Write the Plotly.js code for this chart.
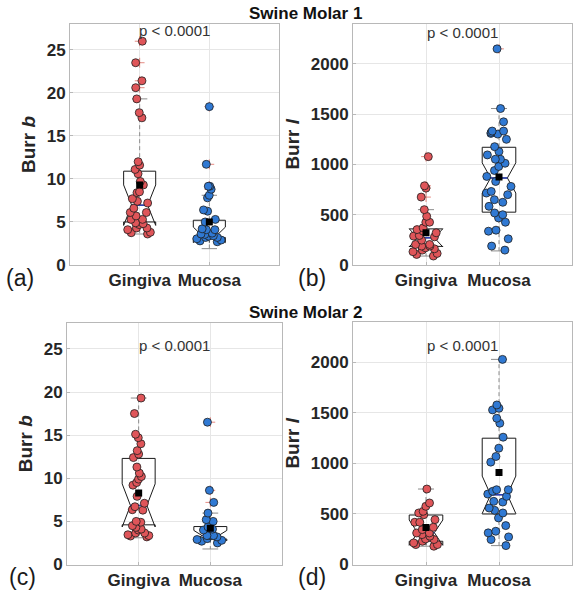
<!DOCTYPE html>
<html><head><meta charset="utf-8">
<script src="https://cdn.plot.ly/plotly-3.0.1.min.js"></script>
<style>html,body{margin:0;padding:0;background:#fff}#chart{width:574px;height:595px}</style>
</head><body><div id="chart"></div>
<script>
const categories = ['Gingiva', 'Mucosa'];
const catPos = [1, 2];

// (a) Swine Molar 1 - Burr b
const aGingiva = [26.0, 23.5, 21.4, 20.6, 19.3, 17.7, 17.1, 12.0, 11.6, 11.1, 10.6, 9.7, 9.3, 8.5, 8.4, 7.7, 7.4, 7.2, 6.6, 6.1, 6.1, 5.7, 5.3, 5.3, 4.9, 4.8, 4.7, 4.3, 4.3, 4.1, 3.8, 3.75, 3.6];
const aMucosa = [18.4, 11.7, 9.15, 9.15, 8.8, 8.1, 7.8, 6.4, 6.25, 5.3, 5.0, 4.2, 4.1, 4.1, 3.7, 3.6, 3.55, 3.4, 3.35, 3.2, 3.2, 3.05, 2.9, 2.8, 2.7];
const aQ1 = [5.0, 3.2], aMedian = [6.95, 3.5], aQ3 = [10.9, 5.2];
const aLow = [3.6, 1.9], aHigh = [19.3, 8.1], aMean = [9.3, 5.0], aNotch = [2.35, 0.9];

// (b) Swine Molar 1 - Burr l
const bGingiva = [1077, 787, 764, 675, 550, 484, 425, 425, 369, 352, 336, 320, 293, 287, 280, 247, 204, 204, 188, 188, 171, 161, 148, 132, 115, 105, 89];
const bMucosa = [2148, 1555, 1423, 1331, 1331, 1318, 1308, 1301, 1249, 1176, 1127, 1094, 1051, 1051, 1011, 979, 939, 880, 830, 781, 731, 715, 699, 649, 623, 583, 517, 500, 468, 425, 346, 336, 260, 188, 148];
const bQ1 = [185, 525], bMedian = [270, 865], bQ3 = [359, 1170];
const bLow = [89, 140], bHigh = [550, 1555], bMean = [320, 875], bNotch = [90, 150];

// (c) Swine Molar 2 - Burr b
const cGingiva = [19.3, 17.5, 15.1, 14.7, 14.0, 13.2, 12.8, 12.4, 11.3, 10.6, 10.2, 9.9, 9.5, 9.2, 7.9, 7.1, 6.7, 6.35, 6.3, 5.0, 4.9, 4.5, 4.3, 4.1, 4.0, 3.65, 3.65, 3.45, 3.35, 3.3, 3.2];
const cMucosa = [16.5, 8.6, 7.2, 5.96, 5.2, 5.0, 4.35, 4.1, 4.0, 3.35, 3.35, 3.35, 3.2, 3.0, 2.9, 2.8, 2.7, 2.5];
const cQ1 = [4.6, 2.95], cMedian = [6.85, 3.35], cQ3 = [12.3, 4.4];
const cLow = [3.1, 1.8], cHigh = [19.3, 5.96], cMean = [8.3, 4.2], cNotch = [2.5, 0.6];

// (d) Swine Molar 2 - Burr l
const dGingiva = [747, 609, 576, 526, 510, 493, 444, 418, 418, 368, 345, 312, 312, 296, 280, 253, 247, 230, 214, 197, 197, 181];
const dMucosa = [2030, 1579, 1546, 1530, 1447, 1398, 1260, 1151, 1069, 1013, 740, 740, 724, 697, 674, 625, 618, 559, 536, 510, 461, 385, 329, 313, 273, 247, 187];
const dQ1 = [230, 500], dMedian = [315, 690], dQ3 = [490, 1250];
const dLow = [181, 187], dHigh = [747, 2030], dMean = [365, 910], dNotch = [125, 185];

const pText = 'p &lt; 0.0001';

const RED = '#df5559', BLUE = '#3079d3';
const BOXW = 0.46, NOTCHW = 0.25, CAP = 0.11;
const FONT = 'Liberation Sans, Arial, Helvetica, sans-serif';

function panel(i, g, m, q1, med, q3, lo, hi, mean, notch) {
  const xa = i === 1 ? 'x' : 'x' + i, ya = i === 1 ? 'y' : 'y' + i;
  const xo = 'x' + (i + 4), yo = 'y' + (i + 4);
  const tr = [];
  tr.push({type: 'box', xaxis: xa, yaxis: ya, x: catPos, q1: q1, median: med, q3: q3,
    lowerfence: q1, upperfence: q3, notched: true, notchspan: notch, notchwidth: NOTCHW,
    width: BOXW, whiskerwidth: 0, boxpoints: false, line: {color: '#1a1a1a', width: 1},
    fillcolor: 'rgba(0,0,0,0)', hoverinfo: 'skip', showlegend: false});
  const wx = [], wy = [], cx = [], cy = [], mx = [], my = [];
  catPos.forEach((c, k) => {
    wx.push(c, c, null, c, c, null); wy.push(q3[k], hi[k], null, q1[k], lo[k], null);
    cx.push(c - CAP, c + CAP, null, c - CAP, c + CAP, null); cy.push(hi[k], hi[k], null, lo[k], lo[k], null);
    const mw = BOXW / 2 * (1 - 2 * NOTCHW);
    mx.push(c - mw, c + mw, null); my.push(med[k], med[k], null);
  });
  tr.push({type: 'scatter', mode: 'lines', xaxis: xa, yaxis: ya, x: wx, y: wy,
    line: {color: '#8c8c8c', width: 1, dash: '4px,3px'}, hoverinfo: 'skip', showlegend: false});
  tr.push({type: 'scatter', mode: 'lines', xaxis: xa, yaxis: ya, x: cx, y: cy,
    line: {color: '#8c8c8c', width: 1}, hoverinfo: 'skip', showlegend: false});
  tr.push({type: 'scatter', mode: 'lines', xaxis: xa, yaxis: ya, x: mx, y: my,
    line: {color: '#2a3fb8', width: 1.5}, hoverinfo: 'skip', showlegend: false});
  [g, m].forEach((arr, k) => {
    const out = arr.filter(v => v > hi[k] || v < lo[k]);
    tr.push({type: 'scatter', mode: 'markers', xaxis: xa, yaxis: ya, x: out.map(() => catPos[k]), y: out,
      marker: {symbol: 'cross-thin', size: 7, line: {color: 'rgba(220,100,90,0.75)', width: 1}},
      hoverinfo: 'skip', showlegend: false});
  });
  [[g, RED], [m, BLUE]].forEach(([arr, col], k) => {
    tr.push({type: 'box', xaxis: xo, yaxis: yo, y: arr, x0: catPos[k], width: BOXW,
      boxpoints: 'all', jitter: 0.95, pointpos: 0, line: {width: 0, color: 'rgba(0,0,0,0)'},
      fillcolor: 'rgba(0,0,0,0)', whiskerwidth: 0, hoveron: 'points',
      marker: {color: col, size: 8, line: {color: '#1e1e1e', width: 0.8}}, showlegend: false, name: categories[k]});
  });
  tr.push({type: 'scatter', mode: 'markers', xaxis: xo, yaxis: yo, x: catPos, y: mean,
    marker: {symbol: 'square', size: 7, color: '#000'}, hoverinfo: 'skip', showlegend: false});
  return tr;
}

const data = [].concat(
  panel(1, aGingiva, aMucosa, aQ1, aMedian, aQ3, aLow, aHigh, aMean, aNotch),
  panel(2, bGingiva, bMucosa, bQ1, bMedian, bQ3, bLow, bHigh, bMean, bNotch),
  panel(3, cGingiva, cMucosa, cQ1, cMedian, cQ3, cLow, cHigh, cMean, cNotch),
  panel(4, dGingiva, dMucosa, dQ1, dMedian, dQ3, dLow, dHigh, dMean, dNotch)
);

const W = 574, H = 595;
const xdom = [[70, 279], [353, 572], [67, 282], [353, 572]].map(d => [d[0] / W, d[1] / W]);
const ydom = [[24, 265], [23.5, 265], [323, 564.5], [322, 564.5]].map(d => [1 - d[1] / H, 1 - d[0] / H]);
const yranges = [[0, 28], [0, 2400], [0, 28], [0, 2400]];
const ydticks = [5, 500, 5, 500];
const ytitles = ['Burr <i>b</i>', 'Burr <i>l</i>', 'Burr <i>b</i>', 'Burr <i>l</i>'];

const layout = {
  width: W, height: H, margin: {l: 0, r: 0, t: 0, b: 0},
  paper_bgcolor: '#fff', plot_bgcolor: '#fff', boxmode: 'overlay', showlegend: false,
  font: {family: FONT, color: '#262626'},
  annotations: []
};
for (let i = 1; i <= 4; i++) {
  const xn = i === 1 ? 'xaxis' : 'xaxis' + i, yn = i === 1 ? 'yaxis' : 'yaxis' + i;
  const ya = i === 1 ? 'y' : 'y' + i, xa = i === 1 ? 'x' : 'x' + i;
  layout[xn] = {domain: xdom[i - 1], anchor: ya, type: 'linear', range: [0, 3], tickmode: 'array',
    tickvals: catPos, ticktext: categories, showgrid: true, gridcolor: '#e6e6e6', zeroline: false,
    showline: true, mirror: true, linecolor: '#b8b8b8', linewidth: 1, ticks: 'inside', ticklen: 3,
    tickcolor: '#b8b8b8', tickfont: {size: 17, weight: 'bold', color: '#262626'}, fixedrange: true};
  layout[yn] = {domain: ydom[i - 1], anchor: xa, type: 'linear', range: yranges[i - 1], dtick: ydticks[i - 1],
    tick0: 0, showgrid: true, gridcolor: '#e6e6e6', zeroline: false, showline: true, mirror: true,
    linecolor: '#b8b8b8', linewidth: 1, ticks: 'inside', ticklen: 3, tickcolor: '#b8b8b8',
    tickfont: {size: 17, weight: 'bold', color: '#262626'}, fixedrange: true,
    title: {text: ytitles[i - 1], font: {size: 19, weight: 'bold', color: '#262626'}, standoff: 6}};
  layout['xaxis' + (i + 4)] = {overlaying: xa, anchor: 'y' + (i + 4), type: 'linear', range: [0, 3], visible: false, fixedrange: true};
  layout['yaxis' + (i + 4)] = {overlaying: ya, anchor: 'x' + (i + 4), type: 'linear', range: yranges[i - 1], visible: false, fixedrange: true};
  layout.annotations.push({xref: xa, yref: ya, x: 1.5, y: [27.2, 2315, 25.4, 2170][i - 1], text: pText,
    showarrow: false, font: {size: 15, color: '#333'}, xanchor: 'center', yanchor: 'middle'});
}
const labels = [['(a)', 20, 278], ['(b)', 312, 278], ['(c)', 22, 577], ['(d)', 312, 577]];
labels.forEach(([t, px, py]) => layout.annotations.push({xref: 'paper', yref: 'paper', x: px / W, y: 1 - py / H,
  text: t, showarrow: false, font: {size: 23, color: '#1a1a1a'}, xanchor: 'center', yanchor: 'middle'}));
[['Swine Molar 1', 305, 13], ['Swine Molar 2', 305, 312]].forEach(([t, px, py]) => layout.annotations.push({
  xref: 'paper', yref: 'paper', x: px / W, y: 1 - py / H, text: '<b>' + t + '</b>', showarrow: false,
  font: {size: 17, color: '#111'}, xanchor: 'center', yanchor: 'middle'}));

Plotly.newPlot('chart', data, layout, {staticPlot: true, displayModeBar: false});
</script></body></html>
